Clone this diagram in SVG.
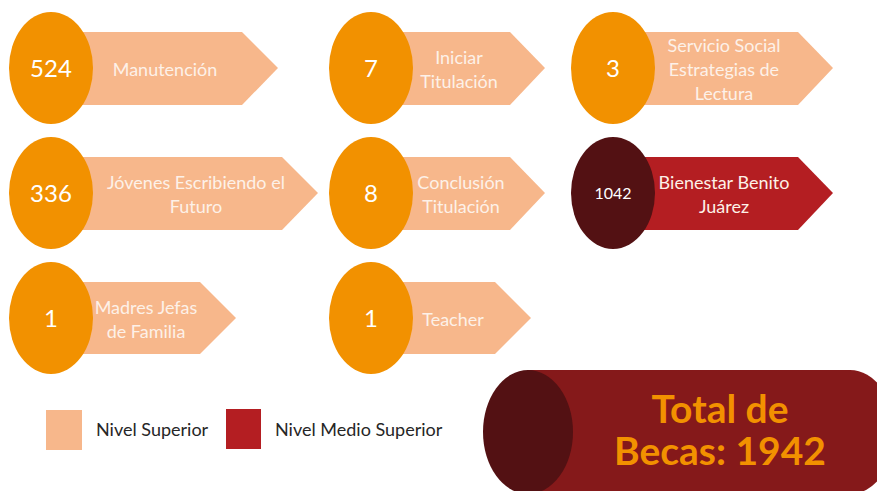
<svg xmlns="http://www.w3.org/2000/svg" width="877" height="491" viewBox="0 0 877 491">
<style>
.arr{fill:#F7B78B}
.arrd{fill:#B41E22}
.ell{fill:#F29100}
.elld{fill:#531113}
.num{font-family:Lato,"Open Sans",sans-serif;font-size:24px;fill:#FFFFFF;text-anchor:middle}
.numsm{font-family:Lato,"Open Sans",sans-serif;font-size:16px;fill:#FFFFFF;text-anchor:middle}
.lbl{font-family:Lato,"Open Sans",sans-serif;font-size:18px;fill:#FDF1E8;text-anchor:middle}
.leg{font-family:Lato,"Open Sans",sans-serif;font-size:18px;fill:#262626}
.tot{font-family:Lato,"Open Sans",sans-serif;font-size:39px;font-weight:bold;fill:#F29100;text-anchor:middle}
</style>
<rect width="877" height="491" fill="#FFFFFF"/>
<g id="connectors"></g>
<g id="n-manutencion">
<polygon class="arr" points="51,32 242,32 278,68 242,105 51,105"/>
<ellipse class="ell" cx="51" cy="68" rx="42" ry="56"/>
<text class="num" x="51" y="77">524</text>
<text class="lbl" x="165" y="76">Manutención</text>
</g>
<g id="n-jovenes">
<polygon class="arr" points="51,157 282,157 318,193 282,230 51,230"/>
<ellipse class="ell" cx="51" cy="193" rx="42" ry="56"/>
<text class="num" x="51" y="202">336</text>
<text class="lbl" x="196" y="189">Jóvenes Escribiendo el</text>
<text class="lbl" x="196" y="213">Futuro</text>
</g>
<g id="n-madres">
<polygon class="arr" points="51,282 200,282 236,318 200,354 51,354"/>
<ellipse class="ell" cx="51" cy="318" rx="42" ry="56"/>
<text class="num" x="51" y="327">1</text>
<text class="lbl" x="146" y="314">Madres Jefas</text>
<text class="lbl" x="146" y="338">de Familia</text>
</g>
<g id="n-iniciar">
<polygon class="arr" points="371,32 510,32 545,68 510,105 371,105"/>
<ellipse class="ell" cx="371" cy="68" rx="42" ry="56"/>
<text class="num" x="371" y="77">7</text>
<text class="lbl" x="459" y="64">Iniciar</text>
<text class="lbl" x="459" y="88">Titulación</text>
</g>
<g id="n-conclusion">
<polygon class="arr" points="371,157 510,157 545,193 510,230 371,230"/>
<ellipse class="ell" cx="371" cy="193" rx="42" ry="56"/>
<text class="num" x="371" y="202">8</text>
<text class="lbl" x="461" y="189">Conclusión</text>
<text class="lbl" x="461" y="213">Titulación</text>
</g>
<g id="n-teacher">
<polygon class="arr" points="371,282 495,282 531,318 495,354 371,354"/>
<ellipse class="ell" cx="371" cy="318" rx="42" ry="56"/>
<text class="num" x="371" y="327">1</text>
<text class="lbl" x="453" y="326">Teacher</text>
</g>
<g id="n-servicio">
<polygon class="arr" points="613,32 798,32 833,68 798,105 613,105"/>
<ellipse class="ell" cx="613" cy="68" rx="42" ry="56"/>
<text class="num" x="613" y="77">3</text>
<text class="lbl" x="724" y="52">Servicio Social</text>
<text class="lbl" x="724" y="76">Estrategias de</text>
<text class="lbl" x="724" y="100">Lectura</text>
</g>
<g id="n-bienestar">
<polygon class="arrd" points="613,157 798,157 833,193 798,230 613,230"/>
<ellipse class="elld" cx="613" cy="193" rx="42" ry="56"/>
<text class="numsm" x="613" y="199">1042</text>
<text class="lbl" x="724" y="189">Bienestar Benito</text>
<text class="lbl" x="724" y="213">Juárez</text>
</g>
<g id="legend">
<rect x="46" y="410" width="36" height="40" fill="#F7B78B"/>
<text class="leg" x="96" y="436">Nivel Superior</text>
<rect x="226" y="409" width="35" height="40" fill="#B41E22"/>
<text class="leg" x="275" y="436">Nivel Medio Superior</text>
</g>
<g id="n-total">
<path d="M528,370 L850,370 A45,62 0 0 1 850,494 L528,494 Z" fill="#85191A"/>
<ellipse class="elld" cx="528" cy="432" rx="45" ry="62"/>
<text class="tot" x="720" y="423">Total de</text>
<text class="tot" x="720" y="465">Becas: 1942</text>
</g>
</svg>
